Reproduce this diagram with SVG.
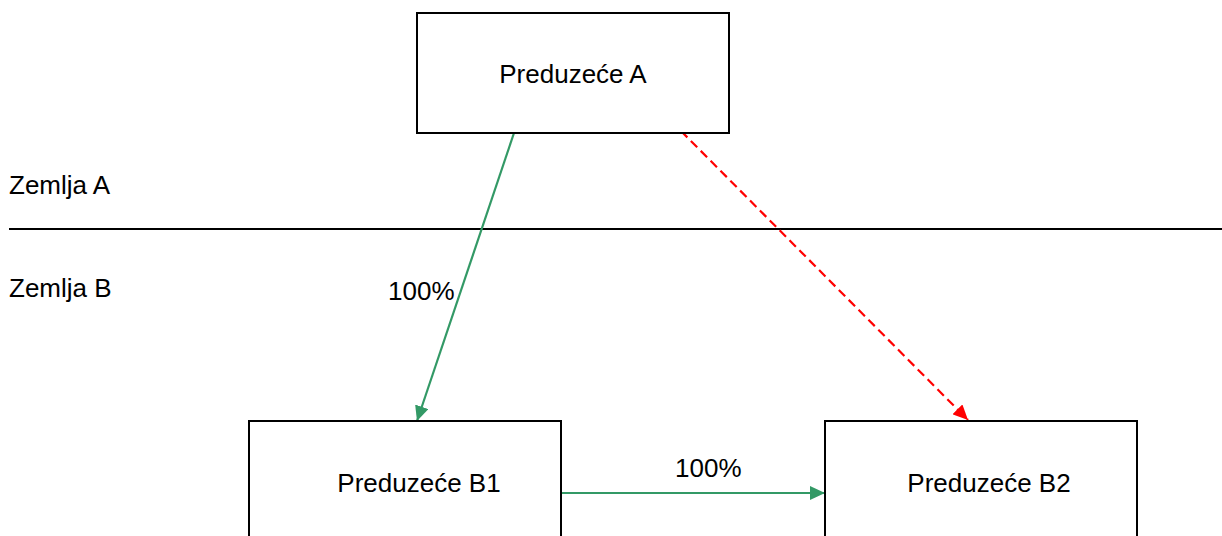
<svg xmlns="http://www.w3.org/2000/svg" width="1222" height="536" viewBox="0 0 1222 536">
<style>
  .box{fill:#ffffff;stroke:#000000;stroke-width:2}
  .t{font-family:"Liberation Sans",Arial,sans-serif;font-size:26px;fill:#000000}
  .g{stroke:#339966;stroke-width:2.2;fill:none}
  .r{stroke:#ff0000;stroke-width:2.2;fill:none;stroke-dasharray:9 5}
</style>
<defs>
  <marker id="ag" markerUnits="userSpaceOnUse" markerWidth="16" markerHeight="14" refX="15" refY="7" orient="auto">
    <path d="M0,0 L15,7 L0,14 Z" fill="#339966"/>
  </marker>
  <marker id="ar" markerUnits="userSpaceOnUse" markerWidth="16" markerHeight="14" refX="15" refY="7" orient="auto">
    <path d="M0,0 L15,7 L0,14 Z" fill="#ff0000"/>
  </marker>
</defs>
<rect width="1222" height="536" fill="#ffffff"/>
<g id="zemlje">
  <line x1="9" y1="229" x2="1222" y2="229" stroke="#000000" stroke-width="2"/>
  <text class="t" x="9" y="194">Zemlja A</text>
  <text class="t" x="9" y="297">Zemlja B</text>
</g>
<g id="connectors">
  <line class="g" x1="514" y1="133" x2="417" y2="421" marker-end="url(#ag)"/>
  <line class="r" x1="681" y1="131" x2="968" y2="420" marker-end="url(#ar)"/>
  <line class="g" x1="561" y1="493" x2="825" y2="493" marker-end="url(#ag)"/>
  <text class="t" x="388" y="300">100%</text>
  <text class="t" x="675" y="477">100%</text>
</g>
<g id="nodeA">
  <rect class="box" x="417" y="13" width="312" height="120"/>
  <text class="t" x="573" y="83" text-anchor="middle">Preduzeće A</text>
</g>
<g id="nodeB1">
  <rect class="box" x="249" y="421" width="312" height="130"/>
  <text class="t" x="419" y="492" text-anchor="middle">Preduzeće B1</text>
</g>
<g id="nodeB2">
  <rect class="box" x="825" y="421" width="312" height="130"/>
  <text class="t" x="989" y="492" text-anchor="middle">Preduzeće B2</text>
</g>
</svg>
